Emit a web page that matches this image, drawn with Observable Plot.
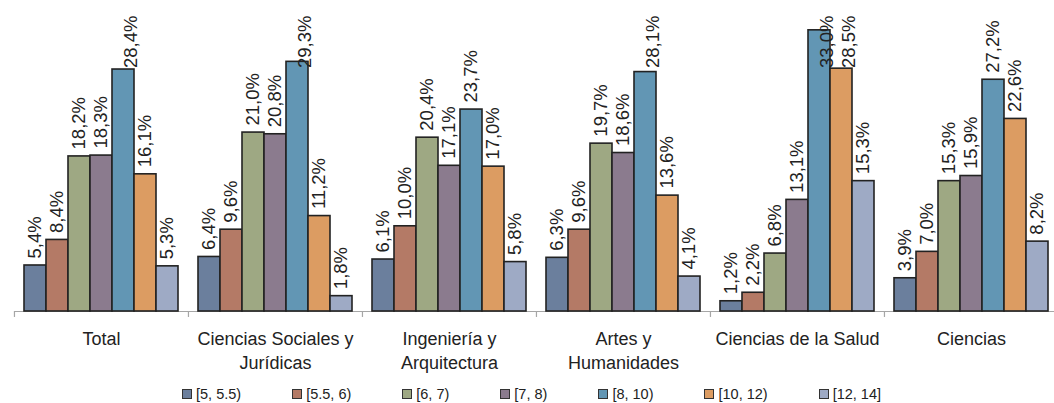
<!DOCTYPE html>
<html>
<head>
<meta charset="utf-8">
<script src="https://cdn.jsdelivr.net/npm/d3@7"></script>
<script src="https://cdn.jsdelivr.net/npm/@observablehq/plot@0.6"></script>
<style>
  html, body { margin: 0; padding: 0; background: #fff; overflow: hidden; }
  #chart svg { display: block; }
  #legend { display: flex; align-items: center; height: 28px; padding-left: 182px; gap: 51px;
    font-family: "Liberation Sans", Arial, sans-serif; font-size: 14.5px; color: #222; }
  #legend .item { display: flex; align-items: center; white-space: nowrap; }
  #legend .sw { width: 8px; height: 8px; border: 1.7px solid #333; margin-right: 4px; }
</style>
</head>
<body>
<div id="chart"></div>
<div id="legend"></div>
<script>
const groups = ["Total", "Ciencias Sociales y Jurídicas", "Ingeniería y Arquitectura", "Artes y Humanidades", "Ciencias de la Salud", "Ciencias"];
const groupLabels = ["Total", "Ciencias Sociales y\nJurídicas", "Ingeniería y\nArquitectura", "Artes y\nHumanidades", "Ciencias de la Salud", "Ciencias"];
const bins = ["[5, 5.5)", "[5.5, 6)", "[6, 7)", "[7, 8)", "[8, 10)", "[10, 12)", "[12, 14]"];
const colors = ["#6b7f9d", "#b47a66", "#9ea883", "#8b7b8e", "#6296b4", "#dc9c62", "#9eaac5"];

const total      = [5.4, 8.4, 18.2, 18.3, 28.4, 16.1, 5.3];
const sociales   = [6.4, 9.6, 21.0, 20.8, 29.3, 11.2, 1.8];
const ingenieria = [6.1, 10.0, 20.4, 17.1, 23.7, 17.0, 5.8];
const artes      = [6.3, 9.6, 19.7, 18.6, 28.1, 13.6, 4.1];
const salud      = [1.2, 2.2, 6.8, 13.1, 33.0, 28.5, 15.3];
const ciencias   = [3.9, 7.0, 15.3, 15.9, 27.2, 22.6, 8.2];
const series = [total, sociales, ingenieria, artes, salud, ciencias];

const data = groups.flatMap((g, i) => series[i].map((v, j) => ({group: g, bin: bins[j], value: v})));
const fmt = v => v.toFixed(1).replace(".", ",") + "%";

// labels that would run past the top get pinned to the top edge
const clampAbove = 27.5;

const fxStart = 12, fxEnd = 1059.6, nG = groups.length;
const step = (fxEnd - fxStart) / nG;
const gap = 20;
const pi = gap / step;
const bw = step - gap;
const halfBar = bw / bins.length / 2;

const chart = Plot.plot({
  width: 1054,
  height: 380,
  marginTop: 15,
  marginBottom: 69,
  marginLeft: 12,
  marginRight: 0,
  style: {fontFamily: "'Liberation Sans', Arial, sans-serif", background: "#fff", color: "#222"},
  fx: {domain: groups, range: [fxStart, fxEnd], paddingInner: pi, paddingOuter: pi / 2, axis: null},
  x: {domain: bins, padding: 0, axis: null},
  y: {domain: [0, 34.74], axis: null},
  color: {domain: bins, range: colors},
  marks: [
    Plot.ruleY(groups, {fx: d => d, y: 0, stroke: "#a6a6a6", strokeWidth: 1.2, insetLeft: -gap / 2, insetRight: -gap / 2}),
    Plot.ruleX(groups, {fx: d => d, x: () => bins[0], y1: 0, y2: -0.7, dx: -(halfBar + gap / 2), stroke: "#a6a6a6", strokeWidth: 1.2}),
    Plot.barY(data, {fx: "group", x: "bin", y: "value", fill: "bin", stroke: "#222", strokeWidth: 1.6}),
    Plot.text(data.filter(d => d.value <= clampAbove), {fx: "group", x: "bin", y: "value", text: d => fmt(d.value), rotate: -90, textAnchor: "start", dy: -7, fontSize: 18.5, fill: "#222"}),
    Plot.text(data.filter(d => d.value > clampAbove), {fx: "group", x: "bin", text: d => fmt(d.value), rotate: -90, textAnchor: "end", frameAnchor: "top", fontSize: 18.5, fill: "#222"}),
    Plot.text(groups, {fx: d => d, text: d => groupLabels[groups.indexOf(d)], frameAnchor: "bottom", lineAnchor: "top", dy: 16, fontSize: 18, lineHeight: 1.333, fill: "#222"})
  ]
});
document.getElementById("chart").appendChild(chart);

const legend = document.getElementById("legend");
bins.forEach((b, i) => {
  const item = document.createElement("div");
  item.className = "item";
  const sw = document.createElement("span");
  sw.className = "sw";
  sw.style.background = colors[i];
  const t = document.createElement("span");
  t.textContent = b;
  item.appendChild(sw);
  item.appendChild(t);
  legend.appendChild(item);
});
</script>
</body>
</html>
